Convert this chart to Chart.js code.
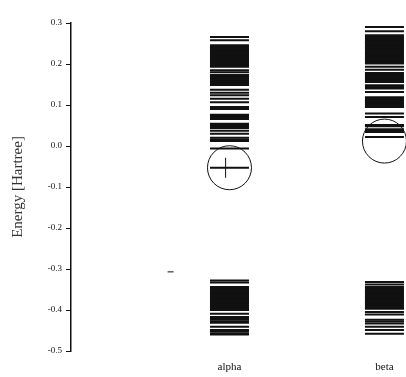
<!DOCTYPE html>
<html>
<head>
<meta charset="utf-8">
<script src="https://cdn.jsdelivr.net/npm/chart.js@4/dist/chart.umd.min.js"></script>
<style>
  html, body { margin: 0; padding: 0; background: #fff; }
  canvas { display: block; }
</style>
</head>
<body>
<canvas id="levels" width="406" height="377"></canvas>
<script>
// orbital energies in Hartree
const columns = ['alpha', 'beta'];

const alphaLevels = [
  0.266, 0.258,
  0.246, 0.243, 0.240, 0.237, 0.234, 0.231, 0.228, 0.225, 0.222, 0.219,
  0.216, 0.213, 0.210, 0.207, 0.204, 0.201, 0.198, 0.195, 0.193,
  0.185, 0.180,
  0.173, 0.170, 0.167, 0.164, 0.161, 0.158, 0.155, 0.152, 0.149,
  0.137, 0.130, 0.124, 0.115, 0.107, 0.095, 0.090,
  0.076, 0.073, 0.069, 0.066,
  0.054, 0.051, 0.047, 0.044,
  0.037, 0.030,
  0.020, 0.016, 0.012,
  -0.006,
  -0.053,
  -0.328, -0.333,
  -0.344, -0.347, -0.350, -0.353, -0.356, -0.359, -0.362, -0.365, -0.368,
  -0.371, -0.374, -0.377, -0.380, -0.383, -0.386, -0.389, -0.392, -0.395,
  -0.398, -0.400,
  -0.409, -0.417, -0.420, -0.424, -0.428, -0.431,
  -0.441, -0.449, -0.453, -0.458, -0.460
];

const betaLevels = [
  0.290, 0.280, 0.270,
  0.266, 0.263, 0.260, 0.257, 0.254, 0.251, 0.248, 0.245, 0.242, 0.239,
  0.236, 0.233, 0.230, 0.227, 0.224, 0.221, 0.218, 0.215, 0.212, 0.209,
  0.206, 0.203, 0.201,
  0.193, 0.186,
  0.178, 0.175, 0.172, 0.169, 0.166, 0.163, 0.160, 0.156,
  0.148, 0.144, 0.140, 0.132,
  0.119, 0.116, 0.113, 0.110, 0.107, 0.104, 0.101, 0.098, 0.095,
  0.079, 0.071,
  0.051, 0.048, 0.041, 0.038, 0.034,
  0.022,
  -0.332, -0.338,
  -0.344, -0.347, -0.350, -0.353, -0.356, -0.359, -0.362, -0.365, -0.368,
  -0.371, -0.374, -0.377, -0.380, -0.383, -0.386, -0.389, -0.392, -0.395,
  -0.397,
  -0.405, -0.411, -0.424, -0.428, -0.433, -0.441, -0.449, -0.458
];

// circled levels (frontier orbitals)
const circledLevels = [-0.053, 0.012];
// little vertical mark through the circled alpha level
const alphaMark = [-0.053];
// stray short dash left of the alpha column
const strayX = [0.62];
const strayY = [-0.307];

const yTicks = [0.3, 0.2, 0.1, 0.0, -0.1, -0.2, -0.3, -0.4, -0.5];

const ink = '#111';

function toPoints(col, arr) {
  return arr.map(e => ({ x: col, y: e }));
}

const ctx = document.getElementById('levels').getContext('2d');

new Chart(ctx, {
  type: 'scatter',
  data: {
    datasets: [
      {
        data: toPoints(1, alphaLevels),
        pointStyle: 'line', pointRadius: 19.5, pointBorderWidth: 2,
        pointBorderColor: ink, clip: false
      },
      {
        data: toPoints(2, betaLevels),
        pointStyle: 'line', pointRadius: 19.5, pointBorderWidth: 2,
        pointBorderColor: ink, clip: false
      },
      {
        data: circledLevels.map((e, i) => ({ x: i + 1, y: e })),
        pointStyle: 'circle', pointRadius: 22, pointBorderWidth: 1,
        pointBorderColor: ink, pointBackgroundColor: 'rgba(0,0,0,0)', clip: false
      },
      {
        data: toPoints(0.975, alphaMark),
        pointStyle: 'line', pointRotation: 90, pointRadius: 10, pointBorderWidth: 1,
        pointBorderColor: ink, clip: false
      },
      {
        data: strayX.map((x, i) => ({ x: x, y: strayY[i] })),
        pointStyle: 'line', pointRadius: 3, pointBorderWidth: 1,
        pointBorderColor: ink, clip: false
      }
    ]
  },
  options: {
    responsive: false,
    animation: false,
    devicePixelRatio: 1,
    events: [],
    // autoPadding would pad every side by the circle radius
    layout: { autoPadding: false, padding: { top: 23, right: 0, bottom: 0, left: 0 } },
    plugins: { legend: { display: false }, tooltip: { enabled: false } },
    scales: {
      x: {
        type: 'linear',
        min: -0.0226,
        max: 2.139,
        afterBuildTicks: scale => { scale.ticks = columns.map((c, i) => ({ value: i + 1 })); },
        afterFit: scale => {
          scale.height = 26;
          scale.paddingLeft = 0;
          scale.paddingRight = 0;
        },
        border: { display: false },
        grid: { display: false, drawTicks: false },
        ticks: {
          padding: 10,
          color: ink,
          font: { family: 'Liberation Serif', size: 11 },
          callback: v => columns[Math.round(v) - 1]
        }
      },
      y: {
        min: -0.5,
        max: 0.3,
        afterBuildTicks: scale => { scale.ticks = yTicks.map(v => ({ value: v })); },
        afterFit: scale => { scale.width = 71; },
        border: { display: true, color: ink, width: 1.5 },
        grid: { drawOnChartArea: false, tickLength: 5, color: ink, lineWidth: 1 },
        ticks: {
          padding: 4,
          color: ink,
          font: { family: 'Liberation Serif', size: 9 },
          callback: v => v.toFixed(1)
        },
        title: {
          display: true,
          text: 'Energy [Hartree]',
          color: '#333',
          padding: { top: 9, bottom: 0 },
          font: { family: 'Liberation Serif', size: 15 }
        }
      }
    }
  }
});
</script>
</body>
</html>
